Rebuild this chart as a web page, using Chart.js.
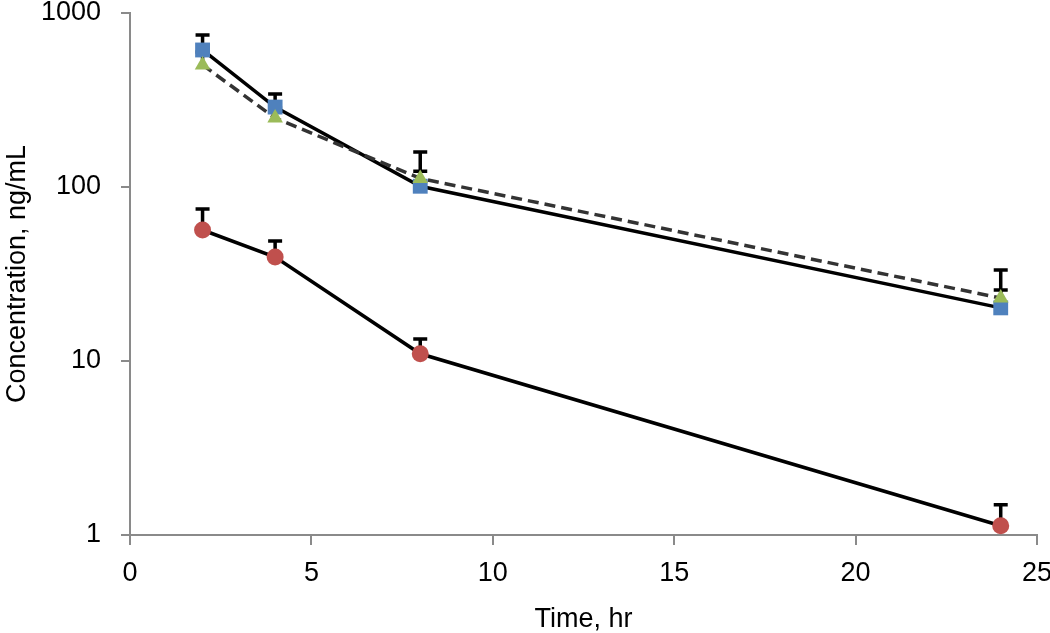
<!DOCTYPE html>
<html>
<head>
<meta charset="utf-8">
<script src="https://cdn.jsdelivr.net/npm/chart.js@4"></script>
<style>
  html, body { margin: 0; padding: 0; background: #fff; }
  #wrap { width: 1050px; height: 633px; }
</style>
</head>
<body>
<div id="wrap"><canvas id="pkChart"></canvas></div>
<script>
const times = [2, 4, 8, 24];

const blueMean = [613, 288, 101, 20.2];
const blueUpper = [748, 342, 123, 25.6];

const greenMean = [503, 249, 112, 23];
const greenUpper = [597, 284, 159, 33.3];

const redMean = [56.6, 39.6, 11, 1.13];
const redUpper = [74.8, 49, 13.4, 1.49];

const yTicks = [1, 10, 100, 1000];
const xTicks = [0, 5, 10, 15, 20, 25];

const pts = (ys) => times.map((t, i) => ({ x: t, y: ys[i] }));

const FONT = "'Liberation Sans', Arial, sans-serif";

// upper error bars, drawn under the markers
const errorBars = {
    id: "errorBars",
    beforeDatasetsDraw(chart) {
        const ctx = chart.ctx;
        const xs = chart.scales.x;
        const ys = chart.scales.y;
        const sets = [[blueMean, blueUpper], [greenMean, greenUpper], [redMean, redUpper]];
        ctx.save();
        ctx.strokeStyle = "#000000";
        ctx.lineWidth = 3.5;
        sets.forEach(([mean, upper]) => {
            times.forEach((t, i) => {
                const px = xs.getPixelForValue(t);
                const y0 = ys.getPixelForValue(mean[i]);
                const y1 = ys.getPixelForValue(upper[i]);
                ctx.beginPath();
                ctx.moveTo(px, y0);
                ctx.lineTo(px, y1);
                ctx.moveTo(px - 7, y1);
                ctx.lineTo(px + 7, y1);
                ctx.stroke();
            });
        });
        ctx.restore();
    }
};

new Chart(document.getElementById("pkChart"), {
    type: "line",
    data: {
        datasets: [
            {
                label: "Group A",
                data: pts(blueMean),
                borderColor: "#000000",
                borderWidth: 3.5,
                pointStyle: "rect",
                pointRadius: 10.5,
                pointBackgroundColor: "#4F81BD",
                pointBorderColor: "#4F81BD",
                pointBorderWidth: 0,
                order: 2
            },
            {
                label: "Group B",
                data: pts(greenMean),
                borderColor: "#333333",
                borderWidth: 3.5,
                borderDash: [11, 6],
                pointStyle: "triangle",
                pointRadius: 9,
                pointBackgroundColor: "#9BBB59",
                pointBorderColor: "#9BBB59",
                pointBorderWidth: 0,
                order: 1
            },
            {
                label: "Group C",
                data: pts(redMean),
                borderColor: "#000000",
                borderWidth: 3.5,
                pointStyle: "circle",
                pointRadius: 8.5,
                pointBackgroundColor: "#C0504D",
                pointBorderColor: "#C0504D",
                pointBorderWidth: 0,
                order: 0
            }
        ]
    },
    options: {
        responsive: true,
        maintainAspectRatio: false,
        animation: false,
        layout: { padding: 0 },
        plugins: {
            legend: { display: false },
            tooltip: { enabled: false }
        },
        scales: {
            x: {
                type: "linear",
                min: 0,
                max: 25,
                afterBuildTicks: (axis) => { axis.ticks = xTicks.map(v => ({ value: v })); },
                afterFit: (axis) => {
                    axis.height = 98;
                    axis.paddingLeft = 0;
                    axis.paddingRight = 13;
                },
                border: { color: "#8a8a8a", width: 2 },
                grid: { display: true, drawOnChartArea: false, color: "#8a8a8a", lineWidth: 2, tickLength: 10 },
                ticks: { color: "#000000", font: { family: FONT, size: 27 }, padding: 12, maxRotation: 0 },
                title: { display: true, text: "Time, hr", color: "#000000", font: { family: FONT, size: 27, lineHeight: 1.0 }, padding: { top: 0, bottom: 0 } }
            },
            y: {
                type: "logarithmic",
                min: 1,
                max: 1000,
                afterBuildTicks: (axis) => { axis.ticks = yTicks.map(v => ({ value: v })); },
                afterFit: (axis) => {
                    axis.width = 130;
                    axis.paddingTop = 13;
                    axis.paddingBottom = 0;
                },
                border: { color: "#8a8a8a", width: 2 },
                grid: { display: true, drawOnChartArea: false, color: "#8a8a8a", lineWidth: 2, tickLength: 9 },
                ticks: { color: "#000000", font: { family: FONT, size: 27 }, padding: 20, callback: (v) => String(v) },
                title: { display: true, text: "Concentration, ng/mL", color: "#000000", font: { family: FONT, size: 27 }, padding: { top: 1, bottom: 0 } }
            }
        }
    },
    plugins: [errorBars]
});
</script>
</body>
</html>
